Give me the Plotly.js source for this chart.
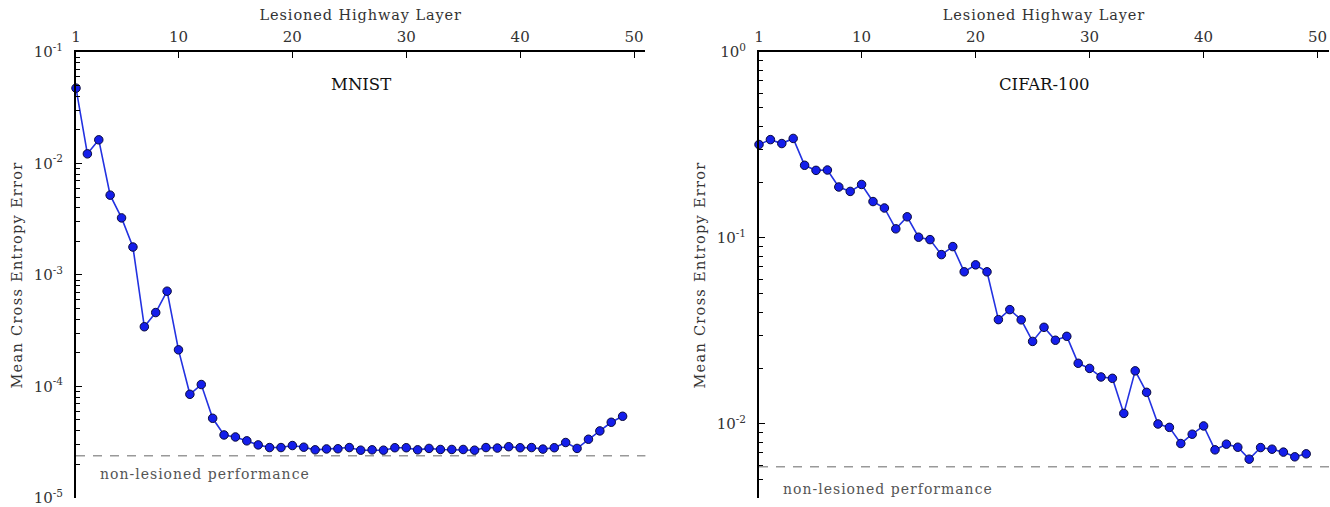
<!DOCTYPE html>
<html>
<head>
<meta charset="utf-8">
<script src="https://cdn.plot.ly/plotly-3.0.1.min.js"></script>
<style>
html,body{margin:0;padding:0;background:#fff;}
#chart{width:1330px;height:507px;}
#chart .xtitle, #chart .x2title{letter-spacing:0.9px;}
#chart .ytitle, #chart .y2title{letter-spacing:1.3px;}
#chart .annotation .annotation-text.spaced{letter-spacing:1px;}
</style>
</head>
<body>
<div id="chart"></div>
<script>
// ---- data ----
const layers = [1,2,3,4,5,6,7,8,9,10,11,12,13,14,15,16,17,18,19,20,21,22,23,24,25,26,27,28,29,30,31,32,33,34,35,36,37,38,39,40,41,42,43,44,45,46,47,48,49];
const mnistError = [0.0474,0.0122,0.0163,0.0052,0.00325,0.00178,3.43e-4,4.6e-4,7.15e-4,2.13e-4,8.5e-5,1.04e-4,5.18e-5,3.67e-5,3.52e-5,3.25e-5,2.99e-5,2.83e-5,2.83e-5,2.95e-5,2.85e-5,2.70e-5,2.75e-5,2.76e-5,2.83e-5,2.68e-5,2.70e-5,2.68e-5,2.82e-5,2.82e-5,2.70e-5,2.78e-5,2.72e-5,2.72e-5,2.72e-5,2.68e-5,2.83e-5,2.80e-5,2.88e-5,2.82e-5,2.83e-5,2.74e-5,2.82e-5,3.14e-5,2.78e-5,3.36e-5,3.99e-5,4.77e-5,5.40e-5];
const cifarError = [0.318,0.338,0.322,0.343,0.246,0.231,0.232,0.188,0.178,0.194,0.157,0.145,0.112,0.130,0.101,0.098,0.0814,0.0899,0.0658,0.0717,0.0658,0.0364,0.0412,0.0363,0.0278,0.0331,0.0282,0.0296,0.0212,0.0199,0.0179,0.0176,0.0114,0.0193,0.0148,0.0100,0.00959,0.00785,0.00881,0.00976,0.00726,0.00779,0.00750,0.00647,0.00747,0.00732,0.00706,0.00666,0.00691];
const mnistBaseline = 2.39e-5;
const cifarBaseline = 0.00589;
const xTickVals = [1,10,20,30,40,50];
const xTickText = ['1','10','20','30','40','50'];
const mnistYTickVals = [1e-5,1e-4,1e-3,1e-2,1e-1];
const mnistYTickText = ['10<sup>-5</sup>','10<sup>-4</sup>','10<sup>-3</sup>','10<sup>-2</sup>','10<sup>-1</sup>'];
const cifarYTickVals = [1e-2,1e-1,1];
const cifarYTickText = ['10<sup>-2</sup>','10<sup>-1</sup>','10<sup>0</sup>'];
const panelTitles = ['MNIST','CIFAR-100'];
const xTitle = 'Lesioned Highway Layer';
const yTitle = 'Mean Cross Entropy Error';
const baselineLabel = 'non-lesioned performance';

// ---- styling ----
const FONT = 'DejaVu Serif, serif';
const TXT = '#333333';
function minorVals(lo, hi){ const v=[]; for(let e=lo;e<hi;e++){ for(let m=2;m<=9;m++) v.push(m*Math.pow(10,e)); } return v; }

const lineStyle = {color:'rgb(35,50,225)', width:1.6};
const markerStyle = {color:'rgb(20,30,235)', size:8.5, line:{color:'rgb(10,10,60)', width:1}};

const traces = [
  {x:layers, y:mnistError, xaxis:'x', yaxis:'y', mode:'lines+markers', line:lineStyle, marker:markerStyle, cliponaxis:false, hoverinfo:'x+y'},
  {x:layers, y:cifarError, xaxis:'x2', yaxis:'y2', mode:'lines+markers', line:lineStyle, marker:markerStyle, cliponaxis:false, hoverinfo:'x+y'}
];

const W = 1330;
const mnistRange = [-5.0008, -1];
const cifarRange = [Math.log10(0.004), 0];
function xAxis(domain, anchor){
  return {
    domain: domain, anchor: anchor, side:'top', range:[1,51],
    tickmode:'array', tickvals:xTickVals, ticktext:xTickText,
    ticks:'inside', ticklen:6, tickwidth:1, tickcolor:'#000',
    showline:true, linecolor:'#000', linewidth:2, mirror:false,
    showgrid:false, zeroline:false, fixedrange:true,
    tickfont:{family:FONT, size:15, color:TXT},
    ticklabelstandoff:2, ticklabeloverflow:'allow',
    title:{text:xTitle, font:{family:FONT, size:14.5, color:TXT}, standoff:4},
    automargin:false
  };
}
function yAxis(anchor, range, tv, tt){
  return {
    anchor: anchor, type:'log', range:range, domain:[0,1],
    tickmode:'array', tickvals:tv, ticktext:tt,
    ticks:'inside', ticklen:6, tickwidth:1, tickcolor:'#000',
    showline:true, linecolor:'#000', linewidth:2,
    showgrid:false, zeroline:false, fixedrange:true,
    tickfont:{family:FONT, size:15, color:TXT},
    ticklabelstandoff:8, ticklabeloverflow:'allow',
    title:{text:yTitle, font:{family:FONT, size:14.5, color:TXT}, standoff:8},
    automargin:false
  };
}
function minorAxis(anchor, over, range, vals){
  return {
    anchor: anchor, overlaying: over, side:'left', type:'log', range:range,
    tickmode:'array', tickvals:vals, showticklabels:false,
    ticks:'inside', ticklen:3.5, tickwidth:1, tickcolor:'#000',
    showline:false, showgrid:false, zeroline:false, fixedrange:true
  };
}

const layout = {
  width:1330, height:507,
  margin:{l:0, r:0, t:52, b:9, pad:0},
  paper_bgcolor:'#fff', plot_bgcolor:'#fff',
  showlegend:false,
  font:{family:FONT, color:TXT},
  xaxis: xAxis([76/W, 645.4/W], 'y'),
  xaxis2: xAxis([759/W, 1329/W], 'y2'),
  yaxis: yAxis('x', mnistRange, mnistYTickVals, mnistYTickText),
  yaxis2: yAxis('x2', cifarRange, cifarYTickVals, cifarYTickText),
  yaxis3: minorAxis('x', 'y', mnistRange, minorVals(-5,-1)),
  yaxis4: minorAxis('x2', 'y2', cifarRange, minorVals(-3,0).filter(v=>v>=0.004)),
  shapes:[
    {type:'line', xref:'x domain', yref:'y', x0:0, x1:1, y0:mnistBaseline, y1:mnistBaseline, line:{color:'#999', width:1.6, dash:'9px,8px'}},
    {type:'line', xref:'x2 domain', yref:'y2', x0:0, x1:1, y0:cifarBaseline, y1:cifarBaseline, line:{color:'#999', width:1.6, dash:'9px,8px'}}
  ],
  annotations:[
    {xref:'x domain', yref:'paper', x:0.5, y:1, yshift:-32, xanchor:'center', yanchor:'middle', showarrow:false, text:panelTitles[0], font:{family:FONT, size:16.5, color:'#111'}},
    {xref:'x2 domain', yref:'paper', x:0.5, y:1, yshift:-32, xanchor:'center', yanchor:'middle', showarrow:false, text:panelTitles[1], font:{family:FONT, size:16.5, color:'#111'}},
    {xref:'x domain', yref:'y', x:0, xshift:34, y:Math.log10(mnistBaseline), yshift:-18, xanchor:'left', yanchor:'middle', showarrow:false, text:baselineLabel, font:{family:FONT, size:14, color:'#555'}},
    {xref:'x2 domain', yref:'y2', x:0, xshift:34, y:Math.log10(cifarBaseline), yshift:-22, xanchor:'left', yanchor:'middle', showarrow:false, text:baselineLabel, font:{family:FONT, size:14, color:'#555'}}
  ]
};

// empty helper traces so the minor-tick overlay axes are drawn
traces.push({x:[], y:[], xaxis:'x', yaxis:'y3', type:'scatter', hoverinfo:'skip'});
traces.push({x:[], y:[], xaxis:'x2', yaxis:'y4', type:'scatter', hoverinfo:'skip'});

Plotly.newPlot('chart', traces, layout, {displayModeBar:false, responsive:false}).then(function(gd){
  gd.querySelectorAll('.annotation-text').forEach(function(t){
    if (t.textContent === baselineLabel) t.classList.add('spaced');
  });
});
</script>
</body>
</html>
